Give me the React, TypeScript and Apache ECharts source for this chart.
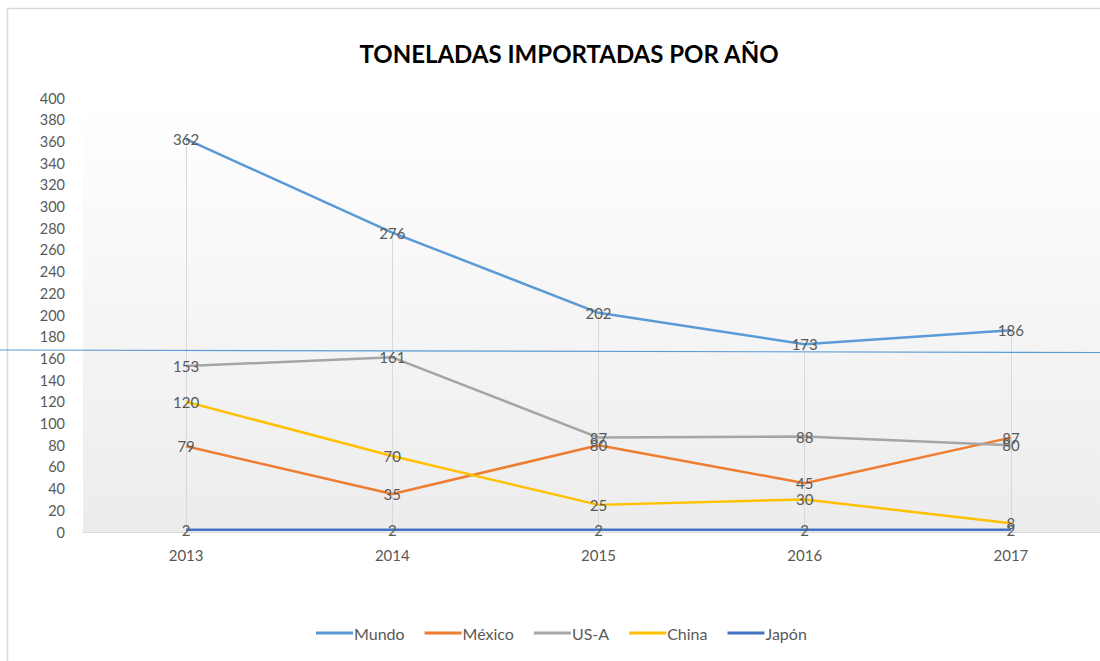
import React, { useEffect, useRef } from "react";
import * as echarts from "echarts";

const years = ["2013", "2014", "2015", "2016", "2017"];
const mundo = [362, 276, 202, 173, 186];
const mexico = [79, 35, 80, 45, 87];
const usa = [153, 161, 87, 88, 80];
const china = [120, 70, 25, 30, 8];
const japon = [2, 2, 2, 2, 2];

const seriesDefs = [
  { name: "Mundo", data: mundo, color: "#5B9BD5" },
  { name: "México", data: mexico, color: "#ED7D31" },
  { name: "US-A", data: usa, color: "#A5A5A5" },
  { name: "China", data: china, color: "#FFC000" },
  { name: "Japón", data: japon, color: "#4472C4" },
];

const FONT = "Lato, 'Open Sans', sans-serif";

export default function App() {
  const ref = useRef<HTMLDivElement>(null);
  useEffect(() => {
    if (!ref.current) return;
    const chart = echarts.init(ref.current, undefined, { renderer: "svg" });
    const series: any[] = seriesDefs.map((s, i) => ({
      name: s.name,
      type: "line",
      data: s.data,
      z: 3 + i,
      showSymbol: true,
      symbol: "circle",
      symbolSize: 0,
      lineStyle: { color: s.color, width: 2.5 },
      itemStyle: { color: s.color },
      label: {
        show: true,
        position: "inside",
        color: "#595959",
        fontSize: 15,
        fontFamily: FONT,
      },
      emphasis: { disabled: true },
    }));
    series[0].markLine = {
      silent: true,
      z: 1,
      symbol: ["none", "none"],
      label: { show: false },
      lineStyle: { color: "#d9d9d9", width: 1, type: "solid" },
      data: years.map((y, i) => [
        { coord: [y, mundo[i]] },
        { coord: [y, 0] },
      ]),
    };
    chart.setOption({
      animation: false,
      backgroundColor: "#ffffff",
      title: {
        text: "TONELADAS IMPORTADAS POR AÑO",
        left: 564,
        textAlign: "center",
        top: 36,
        textStyle: {
          fontFamily: FONT,
          fontWeight: "bold",
          fontSize: 24,
          color: "#000000",
        },
      },
      legend: {
        bottom: 15,
        left: 311,
        itemWidth: 37,
        itemHeight: 3,
        itemGap: 20,
        icon: "rect",
        textStyle: { color: "#595959", fontSize: 16, fontFamily: FONT, padding: [0, 0, 0, -4] },
        data: seriesDefs.map((s) => s.name),
      },
      grid: {
        left: 83,
        width: 1031,
        top: 98,
        height: 434,
        outerBoundsMode: "none",
        containLabel: false,
        show: true,
        borderWidth: 0,
        backgroundColor: {
          type: "linear",
          x: 0,
          y: 0,
          x2: 0,
          y2: 1,
          colorStops: [
            { offset: 0, color: "#ffffff" },
            { offset: 1, color: "#ececec" },
          ],
        },
      },
      xAxis: {
        type: "category",
        data: years,
        boundaryGap: true,
        axisLine: { show: true, lineStyle: { color: "#d9d9d9", width: 1 } },
        axisTick: { show: false },
        splitLine: { show: false },
        axisLabel: { color: "#595959", fontSize: 15, fontFamily: FONT, margin: 15 },
      },
      yAxis: {
        type: "value",
        min: 0,
        max: 400,
        interval: 20,
        axisLine: { show: false },
        axisTick: { show: false },
        splitLine: { show: false },
        axisLabel: { color: "#595959", fontSize: 14.5, fontFamily: FONT, margin: 18 },
      },
      graphic: [
        {
          type: "rect",
          shape: { x: 7.5, y: 8.5, width: 1200, height: 800 },
          style: { fill: "none", stroke: "#d9d9d9", lineWidth: 1.5 },
          z: 0,
          silent: true,
        },
        {
          type: "line",
          shape: { x1: 0, y1: 350, x2: 1100, y2: 352.5 },
          style: { stroke: "#5B9BD5", lineWidth: 1.2 },
          z: 100,
          silent: true,
        },
      ],
      series,
    });
    return () => chart.dispose();
  }, []);
  return (
    <div
      ref={ref}
      style={{ position: "fixed", left: 0, top: 0, width: 1100, height: 661 }}
    />
  );
}
